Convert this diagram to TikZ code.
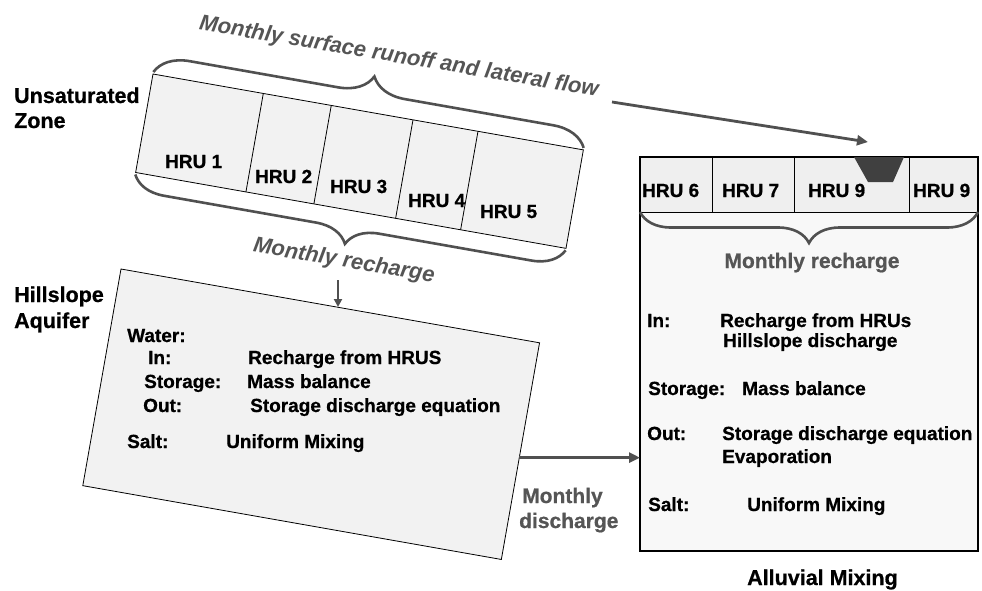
\documentclass[tikz,border=0pt]{standalone}
\usepackage{fontspec}
\setmainfont{Liberation Sans}[BoldFeatures={FakeBold=0.7}]
\usetikzlibrary{decorations.pathreplacing,arrows.meta,calc}
\definecolor{cellfill}{HTML}{F2F2F2}
\definecolor{rowfill}{HTML}{EFEFEF}
\definecolor{boxfill}{HTML}{F8F8F8}
\definecolor{txtgray}{HTML}{555555}
\definecolor{lnegray}{HTML}{505050}
\definecolor{trapcol}{HTML}{404040}
\tikzset{
  cellp/.style={draw=black, line width=0.8pt, fill=cellfill},
  cell/.style={draw=black, line width=0.8pt, fill=cellfill, inner sep=0pt, outer sep=0pt, anchor=north west},
  lbl/.style={font=\fontsize{19}{22}\selectfont\bfseries, inner sep=0pt, anchor=base west},
  ttl/.style={font=\fontsize{21.5}{25}\selectfont\bfseries, inner sep=0pt, anchor=base west},
  grylbl/.style={text=txtgray, font=\fontsize{21}{24}\selectfont\bfseries, inner sep=0pt},
  gryit/.style={text=txtgray, font=\fontsize{22}{25}\selectfont\bfseries\itshape, inner sep=0pt, anchor=base, rotate=-9.5},
  brc/.style={decorate, draw=lnegray, line width=2.6pt},
  arr/.style={draw=lnegray, line width=2.8pt, -{Triangle[length=11pt,width=10pt]}},
  arrs/.style={draw=lnegray, line width=2pt, -{Triangle[length=8pt,width=8pt]}}
}
\begin{document}
\begin{tikzpicture}[x=1pt,y=-1pt]
\useasboundingbox (0,0) rectangle (982,591);

% ---------- Unsaturated zone strip ----------
\begin{scope}[shift={(153,74)}, rotate=-10]
  \draw[cellp] (0,0) rectangle (437,100);
  \draw[line width=0.8pt] (112,0) -- (112,100) (181,0) -- (181,100)
                          (264,0) -- (264,100) (330,0) -- (330,100);
  \coordinate (uNW) at (0,0);
  \coordinate (uNE) at (437,0);
  \coordinate (uSW) at (0,100);
  \coordinate (uSE) at (437,100);
\end{scope}

\node[lbl] (h1) at (165,168) {HRU 1};
\node[lbl] (h2) at (255,183) {HRU 2};
\node[lbl] (h3) at (330,193) {HRU 3};
\node[lbl] (h4) at (408,207) {HRU 4};
\node[lbl] (h5) at (480,218) {HRU 5};

\draw[brc, decoration={brace, amplitude=34pt, raise=2pt}] (uNW) -- (uNE);
\draw[brc, decoration={brace, amplitude=32pt, raise=2pt, mirror}] (uSW) -- (uSE);

\node[ttl] (uz1) at (14,103) {Unsaturated};
\node[ttl] (uz2) at (14,128) {Zone};

\node[gryit] (runoff) at (398,63) {Monthly surface runoff and lateral flow};
\node[gryit] (rech1) at (343,267) {Monthly recharge};

% ---------- Hillslope aquifer ----------
\begin{scope}[shift={(121,269)}, rotate=-10]
  \draw[cellp] (0,0) rectangle (425,220);
  \coordinate (aqNE) at (425,0);
  \coordinate (aqSE) at (425,220);
\end{scope}

\node[ttl] (ha1) at (14,302) {Hillslope};
\node[ttl] (ha2) at (14,328) {Aquifer};

\node[lbl] (w0) at (127,342) {Water:};
\node[lbl] (w1) at (148,364) {In:};
\node[lbl] (w1b) at (248,364) {Recharge from HRUS};
\node[lbl] (w2) at (144,388) {Storage:};
\node[lbl] (w2b) at (247,388) {Mass balance};
\node[lbl] (w3) at (143,412) {Out:};
\node[lbl] (w3b) at (250,412) {Storage discharge equation};
\node[lbl] (s0) at (127,448) {Salt:};
\node[lbl] (s0b) at (226,448) {Uniform Mixing};

% ---------- Alluvial box ----------
\node[draw=black, line width=1.3pt, fill=boxfill, inner sep=0pt, outer sep=0pt, anchor=north west,
      minimum width=338pt, minimum height=394pt] (al) at (640,157) {};
\node[cell, fill=rowfill, minimum width=72pt,  minimum height=55pt] (a6) at (640,157) {};
\node[cell, fill=rowfill, minimum width=82pt,  minimum height=55pt] (a7) at (a6.north east) {};
\node[cell, fill=rowfill, minimum width=115pt, minimum height=55pt] (a8) at (a7.north east) {};
\node[cell, fill=rowfill, minimum width=69pt,  minimum height=55pt] (a9) at (a8.north east) {};
\draw[line width=1.3pt] (al.north west) rectangle (al.south east);
\fill[trapcol] (854,157) -- (904,157) -- (893,182) -- (868,182) -- cycle;

\node[lbl] (l6) at (642,197) {HRU 6};
\node[lbl] (l7) at (722,197) {HRU 7};
\node[lbl] (l8) at (808,197) {HRU 9};
\node[lbl] (l9) at (913,197) {HRU 9};

\draw[brc, decoration={brace, amplitude=31pt, raise=0pt, mirror}] (a6.south west) -- (a9.south east);

\node[grylbl, anchor=base] (rech2) at (812,268) {Monthly recharge};

\node[lbl] (b1) at (647,327) {In:};
\node[lbl] (b1b) at (720,327) {Recharge from HRUs};
\node[lbl] (b1c) at (723,347) {Hillslope discharge};
\node[lbl] (b2) at (648,395) {Storage:};
\node[lbl] (b2b) at (742,395) {Mass balance};
\node[lbl] (b3) at (647,440) {Out:};
\node[lbl] (b3b) at (722,440) {Storage discharge equation};
\node[lbl] (b3c) at (722,463) {Evaporation};
\node[lbl] (b4) at (648,511) {Salt:};
\node[lbl] (b4b) at (747,511) {Uniform Mixing};

\node[ttl] (alt) at (747,585) {Alluvial Mixing};

% ---------- Arrows ----------
\coordinate (ro1) at (612,102);
\coordinate (ro2) at (868,142);
\draw[arr] (ro1) -- (ro2);

\coordinate (rc1) at (338,280);
\coordinate (rc2) at (338,307);
\draw[arrs] (rc1) -- (rc2);

\coordinate (d1) at ($(aqNE)!0.53!(aqSE)$);
\draw[arr] (d1) -- (d1 -| al.west);

\node[grylbl, anchor=base west] (dis1) at (522,503) {Monthly};
\node[grylbl, anchor=base west] (dis2) at (519,528) {discharge};
\end{tikzpicture}
\end{document}
